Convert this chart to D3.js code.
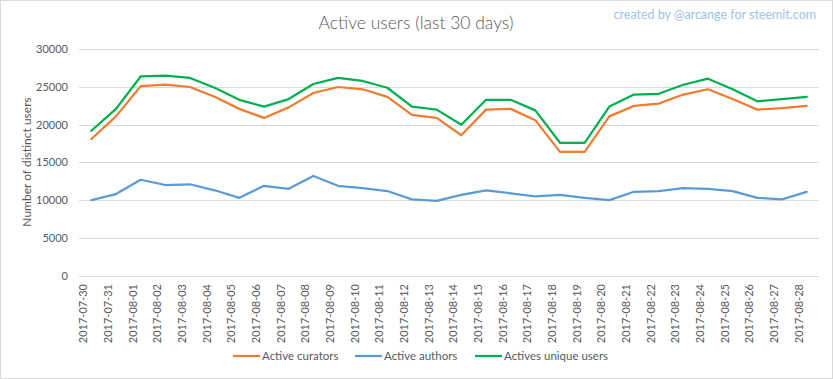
<!DOCTYPE html>
<html><head><meta charset="utf-8">
<script src="https://cdn.jsdelivr.net/npm/d3@7"></script>
<style>body{margin:0;background:#fff;}svg{display:block;font-family:Lato,"Open Sans",sans-serif;}</style>
</head><body><svg id="c" width="833" height="379"></svg>
<script>
const dates = ["2017-07-30","2017-07-31","2017-08-01","2017-08-02","2017-08-03","2017-08-04","2017-08-05","2017-08-06","2017-08-07","2017-08-08","2017-08-09","2017-08-10","2017-08-11","2017-08-12","2017-08-13","2017-08-14","2017-08-15","2017-08-16","2017-08-17","2017-08-18","2017-08-19","2017-08-20","2017-08-21","2017-08-22","2017-08-23","2017-08-24","2017-08-25","2017-08-26","2017-08-27","2017-08-28"];
const curators = [18100,21100,25100,25300,25000,23700,22100,20900,22300,24200,25000,24700,23700,21300,20900,18600,22000,22100,20600,16400,16400,21100,22500,22800,24000,24700,23400,22000,22200,22500];
const authors = [10000,10800,12700,12000,12100,11300,10300,11900,11500,13200,11900,11600,11200,10100,9900,10700,11300,10900,10500,10700,10300,10000,11100,11200,11600,11500,11200,10300,10100,11100];
const uniques = [19200,22100,26400,26500,26200,24900,23300,22400,23400,25400,26200,25800,24900,22400,22000,20000,23300,23300,21900,17600,17600,22400,24000,24100,25300,26100,24700,23100,23400,23700];
const yTicks = [0,5000,10000,15000,20000,25000,30000];
const seriesNames = ["Active curators","Active authors","Actives unique users"];
const seriesColors = ["#ED7D31","#5B9BD5","#00B050"];

const svg = d3.select("#c");
svg.append("rect").attr("x",0.5).attr("y",0.5).attr("width",832).attr("height",378)
  .attr("fill","#fff").attr("stroke","#d9d9d9");

const x = d3.scaleBand().domain(dates).range([79,819]);
const y = d3.scaleLinear().domain([0,30000]).range([275.5,49.3]);

// grid
svg.append("g").selectAll("line").data(yTicks).join("line")
  .attr("x1",79).attr("x2",819).attr("y1",d=>Math.round(y(d))+0.5).attr("y2",d=>Math.round(y(d))+0.5)
  .attr("stroke","#d9d9d9").attr("stroke-width",1);

// y axis labels
const ya = svg.append("g").attr("transform","translate(72,0)")
  .call(d3.axisLeft(y).tickValues(yTicks).tickSize(0).tickPadding(4).tickFormat(d3.format("d")));
ya.select(".domain").remove();
ya.selectAll("text").attr("fill","#595959").style("font-size","11px").style("font-family","Lato,sans-serif");

// x axis labels
const xa = svg.append("g").attr("transform","translate(0,276)")
  .call(d3.axisBottom(x).tickSize(0));
xa.select(".domain").remove();
xa.selectAll("text").attr("fill","#595959").style("font-size","11px").style("font-family","Lato,sans-serif")
  .attr("transform","rotate(-90)").attr("text-anchor","end").attr("dx","-8").attr("dy","-0.35em").attr("y",0).attr("x",0);

// lines
const line = d3.line().x((d,i)=>x(dates[i])+x.bandwidth()/2).y(d=>y(d));
[curators,authors,uniques].forEach((s,i)=>{
  svg.append("path").datum(s).attr("d",line).attr("fill","none")
    .attr("stroke",seriesColors[i]).attr("stroke-width",2.25).attr("stroke-linejoin","round").attr("stroke-linecap","round");
});

// title
svg.append("text").attr("x",416).attr("y",29).attr("text-anchor","middle")
  .attr("fill","#595959").style("font-size","17.5px").style("font-weight","300").text("Active users (last 30 days)");
svg.append("text").attr("x",816).attr("y",19).attr("text-anchor","end")
  .attr("fill","#9DC3E6").style("font-size","12.5px").text("created by @arcange for steemit.com");

// y title
svg.append("text").attr("transform","translate(31,162) rotate(-90)").attr("text-anchor","middle")
  .attr("fill","#595959").style("font-size","12px").text("Number of distinct users");

// legend
const legX = [233,355,475];
seriesNames.forEach((n,i)=>{
  const g = svg.append("g").attr("transform",`translate(${legX[i]},356)`);
  g.append("line").attr("x1",0).attr("x2",27).attr("y1",0).attr("y2",0)
    .attr("stroke",seriesColors[i]).attr("stroke-width",2.25);
  g.append("text").attr("x",29).attr("y",4).attr("fill","#595959").style("font-size","11.5px").text(n);
});
</script></body></html>
